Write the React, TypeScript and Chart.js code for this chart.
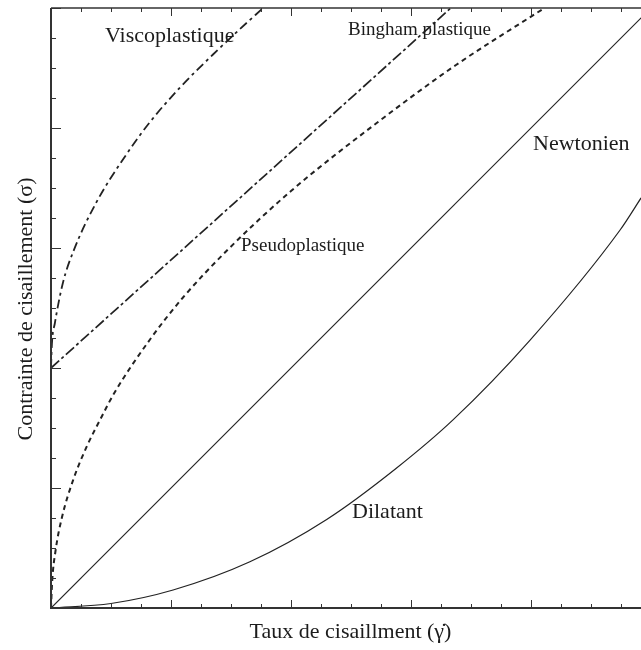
import React, { useEffect, useRef } from "react";
import { Chart, registerables } from "chart.js";

Chart.register(...registerables);

// ---- Data (axis units = tick steps) ----
const newtonX = [0, 20];
const newtonY = [0, 20];

const binghamX = [0, 13.33];
const binghamY = [8, 20];

const viscoX = [0, 0.03, 0.13, 0.4, 0.75, 1.5, 2.5, 3.3, 4.3, 5.4, 6.3, 7.07];
const viscoY = [8, 8.8, 9.5, 10.85, 11.9, 13.5, 15.1, 16.2, 17.35, 18.45, 19.3, 20];

const pseudoX = [0, 0.04, 0.15, 0.36, 0.75, 1.2, 1.65, 2.1, 3.3, 4.4, 5.9, 8, 10.9, 13.5, 16.45];
const pseudoY = [0, 0.9, 1.9, 3.0, 4.3, 5.4, 6.3, 7.15, 8.95, 10.35, 11.95, 13.9, 16.2, 18.1, 20];

const dilatX = [0, 2, 4.07, 6.63, 9.19, 11.5, 13.4, 15.97, 18.97, 19.67];
const dilatY = [0, 0.15, 0.6, 1.54, 2.95, 4.65, 6.27, 8.93, 12.6, 13.67];

const seriesNames = ["Newtonien", "Bingham plastique", "Viscoplastique", "Pseudoplastique", "Dilatant"];
const xTitle = "Taux de cisaillment (\u03B3\u0307)";
const yTitle = "Contrainte de cisaillement (\u03C3)";

const xMin = 0;
const xMax = 19.667;
const yMin = 0;
const yMax = 20;
const tickStep = 1;
const majorEvery = 4;

// ---- Layout / style (not data) ----
const FONT = "'Liberation Serif', 'Times New Roman', serif";
const INK = "#1c1c1c";
const labelLayout = [
  { text: "Viscoplastique", x: 105, y: 42, size: 22 },
  { text: "Bingham plastique", x: 348, y: 35, size: 19 },
  { text: "Pseudoplastique", x: 241, y: 251, size: 19 },
  { text: "Newtonien", x: 533, y: 150, size: 22 },
  { text: "Dilatant", x: 352, y: 518, size: 22 },
];

const pts = (xs: number[], ys: number[]) => xs.map((x, i) => ({ x, y: ys[i] }));

const overlayPlugin = {
  id: "overlay",
  afterDatasetsDraw(chart: any) {
    const { ctx, chartArea: a, scales } = chart;
    const xs = scales.x;
    const ys = scales.y;
    ctx.save();
    ctx.strokeStyle = "#333";
    ctx.lineCap = "butt";
    const seg = (x1: number, y1: number, x2: number, y2: number) => {
      ctx.beginPath();
      ctx.moveTo(x1, y1);
      ctx.lineTo(x2, y2);
      ctx.stroke();
    };
    // ticks
    ctx.lineWidth = 1;
    for (let v = Math.ceil(xs.min); v <= xs.max + 1e-9; v += tickStep) {
      const px = Math.round(xs.getPixelForValue(v)) + 0.5;
      const major = Math.round(v) % majorEvery === 0;
      const len = major ? 8 : 4;
      seg(px, a.bottom, px, a.bottom - len);
      seg(px, a.top, px, a.top + len);
    }
    for (let v = Math.ceil(ys.min); v <= ys.max + 1e-9; v += tickStep) {
      const py = Math.round(ys.getPixelForValue(v)) + 0.5;
      const major = Math.round(v) % majorEvery === 0;
      const len = major ? 10 : 5;
      seg(a.left, py, a.left + len, py);
    }
    // frame
    ctx.lineWidth = 2;
    seg(a.left, a.top, a.left, a.bottom + 1);
    seg(a.left - 1, a.bottom, a.right, a.bottom);
    ctx.lineWidth = 1.5;
    seg(a.left, a.top, a.right, a.top);

    // curve labels
    ctx.fillStyle = INK;
    ctx.textBaseline = "alphabetic";
    ctx.textAlign = "left";
    for (const l of labelLayout) {
      ctx.font = `${l.size}px ${FONT}`;
      ctx.fillText(l.text, l.x, l.y);
    }
    // axis titles
    ctx.font = `22px ${FONT}`;
    ctx.textAlign = "center";
    ctx.fillText(xTitle, 350.5, 638);
    ctx.save();
    ctx.translate(31.5, (a.top + a.bottom) / 2 + 1);
    ctx.rotate(-Math.PI / 2);
    ctx.fillText(yTitle, 0, 0);
    ctx.restore();
    ctx.restore();
  },
};

export default function App() {
  const ref = useRef<HTMLCanvasElement | null>(null);
  useEffect(() => {
    document.body.style.margin = "0";
    const canvas = ref.current!;
    const base = { pointRadius: 0, pointHoverRadius: 0, fill: false, borderColor: "#222" };
    const chart = new Chart(canvas, {
      type: "line",
      data: {
        datasets: [
          { ...base, label: seriesNames[0], data: pts(newtonX, newtonY), borderWidth: 1.2 },
          { ...base, label: seriesNames[1], data: pts(binghamX, binghamY), borderWidth: 1.7, borderDash: [11, 3, 3, 3] },
          { ...base, label: seriesNames[2], data: pts(viscoX, viscoY), borderWidth: 1.8, borderDash: [9, 4, 3, 4], cubicInterpolationMode: "monotone" },
          { ...base, label: seriesNames[3], data: pts(pseudoX, pseudoY), borderWidth: 2, borderDash: [5, 4], cubicInterpolationMode: "monotone" },
          { ...base, label: seriesNames[4], data: pts(dilatX, dilatY), borderWidth: 1.2, cubicInterpolationMode: "monotone" },
        ] as any,
      },
      options: {
        animation: false,
        responsive: false,
        devicePixelRatio: 1,
        layout: { padding: { left: 51, top: 8, right: 0, bottom: 42 } },
        plugins: { legend: { display: false }, tooltip: { enabled: false } },
        events: [],
        scales: {
          x: { type: "linear", display: false, min: xMin, max: xMax, ticks: { stepSize: tickStep } },
          y: { type: "linear", display: false, min: yMin, max: yMax, ticks: { stepSize: tickStep } },
        },
      },
      plugins: [overlayPlugin],
    });
    return () => chart.destroy();
  }, []);
  return (
    <div style={{ position: "absolute", left: 0, top: 0, width: 641, height: 650, background: "#fff" }}>
      <canvas ref={ref} width={641} height={650} style={{ display: "block" }} />
    </div>
  );
}
